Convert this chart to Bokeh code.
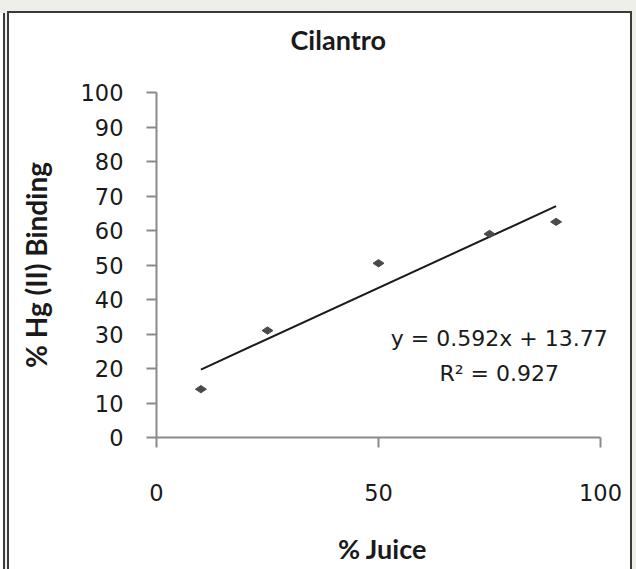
import numpy as np
from bokeh.plotting import figure
from bokeh.layouts import column
from bokeh.models import Range1d, FixedTicker, Label, Title
from bokeh.embed import file_html
from bokeh.resources import INLINE

# ---- data ----
juice = [10, 25, 50, 75, 90]
binding = [14, 31, 50.5, 59, 62.5]
slope = 0.592
intercept = 13.77
r_squared = 0.927
x_ticks = [0, 50, 100]
y_ticks = [0, 10, 20, 30, 40, 50, 60, 70, 80, 90, 100]
title_text = "Cilantro"
x_label = "% Juice"
y_label = "% Hg (II) Binding"
eq_text = "y = 0.592x + 13.77"
r2_text = "R\u00b2 = 0.927"

TICK_FONT = "DejaVu Sans"
LABEL_FONT = "Lato"
AXIS_COLOR = "#8a8a8a"
TEXT_COLOR = "#1a1a1a"

p = figure(width=621, height=556, output_backend="svg", toolbar_location=None,
           x_range=Range1d(0, 101.8), y_range=Range1d(0, 100),
           min_border_left=147, min_border_right=22,
           min_border_top=79, min_border_bottom=132)
p.background_fill_color = "white"
p.border_fill_color = "white"
p.outline_line_color = None
p.xgrid.visible = False
p.ygrid.visible = False

# chart title
title_kw = dict(text=title_text, align="left", offset=134, vertical_align="bottom",
                standoff=0, text_font=LABEL_FONT, text_font_style="bold",
                text_font_size="27px", text_color=TEXT_COLOR)
try:
    title = Title(padding=dict(left=0, right=0, top=0, bottom=37), **title_kw)
except Exception:
    title = Title(**title_kw)
p.title = title

# axes
for ax in (p.xaxis[0], p.yaxis[0]):
    ax.axis_line_color = AXIS_COLOR
    ax.axis_line_width = 2
    ax.major_tick_line_color = AXIS_COLOR
    ax.major_tick_line_width = 2
    ax.major_tick_out = 10
    ax.major_tick_in = 0
    ax.minor_tick_line_color = None
    ax.major_label_text_font = TICK_FONT
    ax.major_label_text_font_size = "22.5px"
    ax.major_label_text_color = TEXT_COLOR
    ax.axis_label_text_font = LABEL_FONT
    ax.axis_label_text_font_style = "bold"
    ax.axis_label_text_color = TEXT_COLOR

p.xaxis.ticker = FixedTicker(ticks=x_ticks)
p.yaxis.ticker = FixedTicker(ticks=y_ticks)
p.xaxis.bounds = (0, 100)
p.xaxis.major_label_standoff = 36
p.yaxis.major_label_standoff = 23

p.yaxis.axis_label = y_label
p.yaxis.axis_label_text_font_size = "28px"
p.yaxis.axis_label_standoff = 25

p.xaxis.axis_label = x_label
p.xaxis.axis_label_text_font_size = "27px"
p.xaxis.axis_label_standoff = 28

# trend line
xs = np.array([min(juice), max(juice)], dtype=float)
p.line(xs, slope * xs + intercept, line_color=TEXT_COLOR, line_width=2)

# data points
p.scatter(juice, binding, marker="diamond", size=11, angle=np.pi / 2,
          fill_color="#4a4a4a", line_color="#4a4a4a")

# equation
p.add_layout(Label(x=77.2, y=28.7, text=eq_text, text_align="center", text_baseline="middle",
                   text_font=TICK_FONT, text_font_size="22px", text_color=TEXT_COLOR))
p.add_layout(Label(x=77.2, y=18.6, text=r2_text, text_align="center", text_baseline="middle",
                   text_font=TICK_FONT, text_font_size="22px", text_color=TEXT_COLOR))

box = column(p, styles={"border-top": "2px solid #3a3a3a",
                        "border-left": "2px solid #3a3a3a",
                        "border-right": "2px solid #3a3a3a",
                        "background-color": "white"})
page = column(box, styles={
    "background": ("linear-gradient(#efefea, #efefea) top left / 100% 13px no-repeat, "
                   "linear-gradient(to right, #ffffff 0px, #ffffff 3px, #3a3a3a 3px, "
                   "#3a3a3a 5px, #efefea 5px)"),
    "padding": "11px 4px 0px 7px"})

open("out.html", "w").write(file_html(page, INLINE))
